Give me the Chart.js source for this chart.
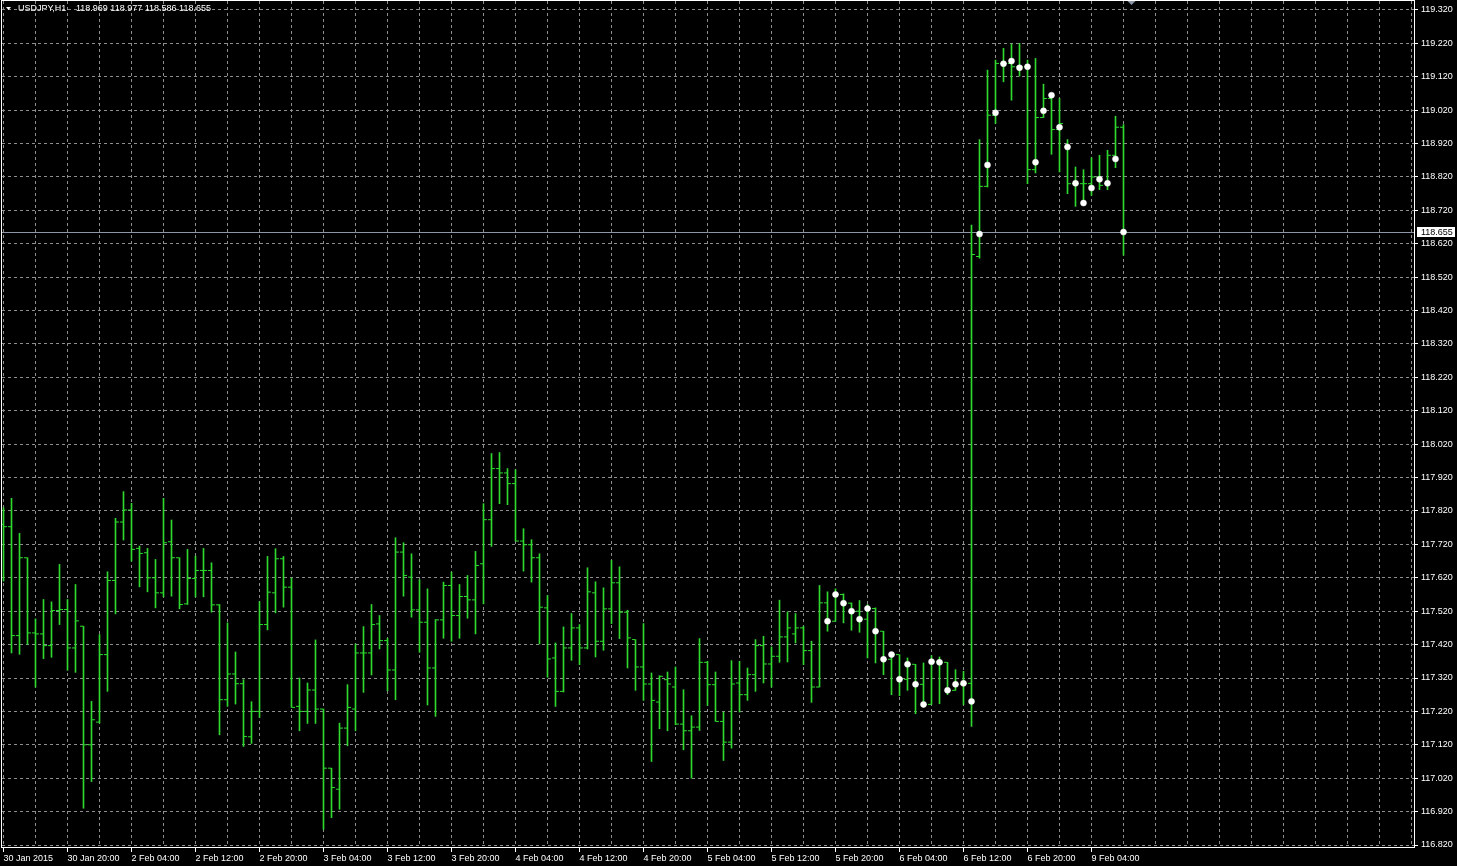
<!DOCTYPE html>
<html><head><meta charset="utf-8">
<script src="https://cdn.jsdelivr.net/npm/chart.js@4.4.0/dist/chart.umd.min.js"></script>
<style>html,body{margin:0;padding:0;background:#000;overflow:hidden}canvas{display:block}</style>
</head><body>
<canvas id="c" width="1457" height="866"></canvas>
<script>
const symbolTitle = "USDJPY,H1";
const opens = [
117.780,117.773,117.447,117.680,117.455,117.452,117.417,117.522,117.525,117.410,
117.475,117.120,117.188,117.390,117.612,117.787,117.823,117.708,117.695,117.620,
117.575,117.728,117.680,117.542,117.618,117.642,117.642,117.539,117.255,117.332,
117.303,117.144,117.220,117.480,117.575,117.677,117.592,117.235,117.220,117.284,
117.227,117.050,116.987,117.170,117.227,117.395,117.395,117.482,117.432,117.344,
117.697,117.622,117.524,117.487,117.350,117.494,117.597,117.507,117.564,117.554,
117.662,117.794,117.947,117.934,117.902,117.730,117.719,117.680,117.530,117.380,
117.280,117.410,117.470,117.410,117.575,117.430,117.527,117.605,117.517,117.435,
117.353,117.302,117.248,117.315,117.293,117.182,117.162,117.173,117.367,117.300,
117.190,117.128,117.305,117.270,117.330,117.417,117.362,117.385,117.443,117.452,
117.470,117.402,117.293,117.545,117.490,117.570,117.544,117.520,117.496,117.528,
117.460,117.376,117.390,117.316,117.361,117.301,117.241,117.369,117.367,117.283,
117.301,117.304,118.582,118.792,119.005,119.160,119.160,119.150,119.150,118.842,
118.998,119.055,118.962,118.910,118.800,118.800,118.800,118.820,118.800,118.885,
118.969];
const highs = [
117.830,117.858,117.753,117.680,117.497,117.555,117.548,117.660,117.555,117.600,
117.475,117.250,117.450,117.638,117.798,117.878,117.843,117.715,117.708,117.675,
117.858,117.793,117.680,117.705,117.685,117.708,117.665,117.540,117.485,117.398,
117.315,117.249,117.549,117.684,117.707,117.684,117.620,117.320,117.305,117.434,
117.227,117.050,117.185,117.300,117.422,117.474,117.540,117.507,117.439,117.740,
117.725,117.692,117.614,117.587,117.495,117.607,117.637,117.600,117.627,117.699,
117.842,117.992,117.995,117.947,117.944,117.767,117.734,117.692,117.567,117.425,
117.473,117.513,117.480,117.650,117.608,117.590,117.672,117.653,117.523,117.435,
117.483,117.335,117.327,117.338,117.353,117.285,117.207,117.438,117.370,117.338,
117.218,117.372,117.370,117.350,117.435,117.445,117.413,117.553,117.518,117.513,
117.475,117.430,117.597,117.578,117.587,117.572,117.545,117.552,117.540,117.530,
117.460,117.395,117.390,117.380,117.361,117.365,117.387,117.383,117.367,117.345,
117.340,118.676,118.932,119.140,119.170,119.205,119.218,119.220,119.170,119.175,
119.098,119.065,119.055,118.932,118.850,118.842,118.878,118.885,118.900,119.002,
118.977];
const lows = [
117.610,117.395,117.391,117.420,117.293,117.378,117.382,117.480,117.343,117.337,
116.930,117.010,117.185,117.280,117.512,117.733,117.670,117.593,117.578,117.530,
117.563,117.565,117.527,117.540,117.563,117.563,117.517,117.150,117.235,117.242,
117.115,117.124,117.202,117.464,117.515,117.532,117.232,117.162,117.184,117.184,
116.867,116.902,116.927,117.117,117.162,117.277,117.329,117.407,117.282,117.255,
117.565,117.502,117.397,117.239,117.205,117.439,117.430,117.439,117.499,117.452,
117.542,117.714,117.842,117.839,117.730,117.640,117.607,117.422,117.322,117.235,
117.278,117.373,117.360,117.407,117.383,117.403,117.483,117.438,117.350,117.283,
117.253,117.070,117.168,117.162,117.180,117.105,117.020,117.163,117.238,117.190,
117.073,117.110,117.218,117.253,117.280,117.305,117.293,117.367,117.368,117.425,
117.360,117.247,117.293,117.460,117.490,117.485,117.463,117.457,117.380,117.365,
117.330,117.270,117.267,117.283,117.213,117.233,117.241,117.243,117.270,117.283,
117.240,117.175,118.577,118.790,118.980,119.105,119.050,119.122,118.800,118.832,
118.998,118.888,118.835,118.770,118.732,118.735,118.765,118.782,118.782,118.848,
118.586];
const closes = [
117.773,117.447,117.680,117.455,117.452,117.417,117.522,117.525,117.410,117.491,
117.120,117.195,117.390,117.612,117.787,117.823,117.705,117.693,117.620,117.575,
117.725,117.680,117.540,117.618,117.642,117.642,117.539,117.255,117.332,117.303,
117.145,117.220,117.480,117.577,117.677,117.592,117.232,117.220,117.284,117.227,
117.050,116.992,117.170,117.232,117.395,117.395,117.480,117.432,117.344,117.697,
117.627,117.524,117.487,117.350,117.494,117.597,117.507,117.564,117.554,117.657,
117.794,117.947,117.934,117.902,117.730,117.719,117.680,117.532,117.377,117.280,
117.410,117.470,117.410,117.578,117.430,117.527,117.605,117.517,117.440,117.353,
117.302,117.253,117.325,117.302,117.182,117.162,117.173,117.367,117.300,117.190,
117.128,117.302,117.270,117.330,117.417,117.362,117.385,117.443,117.470,117.470,
117.402,117.293,117.545,117.490,117.570,117.544,117.520,117.496,117.528,117.460,
117.376,117.390,117.316,117.361,117.301,117.241,117.369,117.367,117.283,117.301,
117.304,118.588,118.792,119.005,119.160,119.160,119.150,119.150,118.842,118.998,
119.055,118.962,118.980,118.800,118.800,118.800,118.820,118.795,118.885,118.969,
118.655];
const dotStart = 103;
const dotValues = [
117.490,117.570,117.544,117.520,117.496,117.528,117.460,117.376,117.390,117.316,
117.361,117.301,117.241,117.369,117.367,117.283,117.301,117.304,117.250,
118.649,118.856,119.012,119.159,119.167,119.147,119.150,118.864,119.018,119.065,
118.969,118.910,118.801,118.742,118.787,118.813,118.801,118.874,118.655];
const xTickLabels = ["30 Jan 2015","30 Jan 20:00","2 Feb 04:00","2 Feb 12:00","2 Feb 20:00",
"3 Feb 04:00","3 Feb 12:00","3 Feb 20:00","4 Feb 04:00","4 Feb 12:00","4 Feb 20:00",
"5 Feb 04:00","5 Feb 12:00","5 Feb 20:00","6 Feb 04:00","6 Feb 12:00","6 Feb 20:00","9 Feb 04:00"];
const yTickValues = [116.820,116.920,117.020,117.120,117.220,117.320,117.420,117.520,117.620,117.720,
117.820,117.920,118.020,118.120,118.220,118.320,118.420,118.520,118.620,118.720,
118.820,118.920,119.020,119.120,119.220,119.320];
const bidPrice = closes[closes.length - 1];

const BAR = '#2fd82f';
const GRID = '#8e8e8e';
const FONT = {family: 'Liberation Sans', size: 9};
const last = closes.length - 1;

const hlData = highs.map((h, i) => ({x: i, y: [lows[i], h]}));
const openData = opens.map((o, i) => ({x: i - 0.25, y: o}));
const closeData = closes.map((c, i) => ({x: i + 0.25, y: c}));
const dotData = dotValues.map((v, k) => ({x: dotStart + k, y: v}));

const framePlugin = {
  id: 'frame',
  beforeDatasetsDraw(chart) {
    const {ctx, chartArea: a, scales} = chart;
    const y = Math.round(scales.y.getPixelForValue(bidPrice)) + 0.5;
    ctx.save();
    ctx.strokeStyle = '#8c96a6';
    ctx.lineWidth = 1;
    ctx.beginPath(); ctx.moveTo(a.left, y); ctx.lineTo(a.right, y); ctx.stroke();
    ctx.restore();
  },
  afterDraw(chart) {
    const {ctx, chartArea: a, scales} = chart;
    ctx.save();
    ctx.strokeStyle = '#ffffff';
    ctx.lineWidth = 1;
    ctx.strokeRect(a.left - 0.5, a.top - 0.5, a.right - a.left, a.bottom - a.top);
    // bid price box
    const y = Math.round(scales.y.getPixelForValue(bidPrice));
    ctx.fillStyle = '#ffffff';
    ctx.fillRect(a.right + 2, y - 5, 38, 10);
    ctx.fillStyle = '#000000';
    ctx.font = '9px "Liberation Sans"';
    ctx.textBaseline = 'middle';
    ctx.textAlign = 'left';
    ctx.fillText(bidPrice.toFixed(3), a.right + 6, y + 0.5);
    // title
    ctx.fillStyle = '#ffffff';
    ctx.beginPath(); ctx.moveTo(6, 7); ctx.lineTo(11, 7); ctx.lineTo(8.5, 10); ctx.closePath(); ctx.fill();
    ctx.fillText(symbolTitle, 18, 9);
    const t = [opens[last], highs[last], lows[last], closes[last]].map(v => v.toFixed(3)).join(' ');
    ctx.fillText(t, 76, 9);
    // chart shift marker
    const sx = scales.x.getPixelForValue(last + 1);
    ctx.fillStyle = '#8c96a6';
    ctx.beginPath(); ctx.moveTo(sx - 4, a.top); ctx.lineTo(sx + 4, a.top); ctx.lineTo(sx, a.top + 4); ctx.closePath(); ctx.fill();
    ctx.restore();
  }
};

new Chart(document.getElementById('c'), {
  type: 'bar',
  data: {
    datasets: [
      {type: 'bar', data: hlData, backgroundColor: BAR, borderWidth: 0, barThickness: 1, order: 3},
      {type: 'scatter', data: openData, pointStyle: 'line', pointRadius: 1.5, borderColor: BAR, borderWidth: 1, order: 2},
      {type: 'scatter', data: closeData, pointStyle: 'line', pointRadius: 1.5, borderColor: BAR, borderWidth: 1, order: 2},
      {type: 'scatter', data: dotData, pointStyle: 'circle', pointRadius: 3, backgroundColor: '#ffffff', borderColor: '#ffffff', borderWidth: 0.5, order: 1}
    ]
  },
  options: {
    responsive: false,
    animation: false,
    devicePixelRatio: 1,
    events: [],
    layout: {autoPadding: false, padding: {left: 2, top: 1, right: 0, bottom: 0}},
    plugins: {legend: {display: false}, tooltip: {enabled: false}},
    scales: {
      x: {
        type: 'linear', position: 'bottom', offset: false,
        min: -0.1875, max: 176.4375,
        afterBuildTicks(s) { const t = []; for (let v = 0; v <= 176; v += 4) t.push({value: v}); s.ticks = t; },
        afterFit(s) { s.height = 18; s.paddingLeft = 0; s.paddingRight = 0; },
        grid: {offset: false, color: GRID, lineWidth: 1, tickLength: 4, tickBorderDash: [],
          tickColor: c => (c.tick && c.tick.value % 8 === 0 && c.tick.value / 8 < xTickLabels.length) ? '#ffffff' : 'rgba(0,0,0,0)'},
        border: {display: false, dash: [3, 3]},
        ticks: {autoSkip: false, maxRotation: 0, minRotation: 0, align: 'start', padding: 1, color: '#ffffff', font: FONT,
          callback: v => (v % 8 === 0 && v / 8 < xTickLabels.length) ? xTickLabels[v / 8] : ''}
      },
      y: {
        type: 'linear', position: 'right',
        min: 116.82 - 3 / 334, max: 119.32 + 9 / 334,
        afterBuildTicks(s) { s.ticks = yTickValues.map(v => ({value: v})); },
        afterFit(s) { s.width = 42; s.paddingTop = 0; s.paddingBottom = 0; },
        grid: {color: GRID, lineWidth: 1, tickLength: 3, tickColor: '#ffffff', tickBorderDash: []},
        border: {display: false, dash: [3, 3]},
        ticks: {autoSkip: false, padding: 3, color: '#ffffff', font: FONT, callback: v => Number(v).toFixed(3)}
      }
    }
  },
  plugins: [framePlugin]
});
</script>
</body></html>
